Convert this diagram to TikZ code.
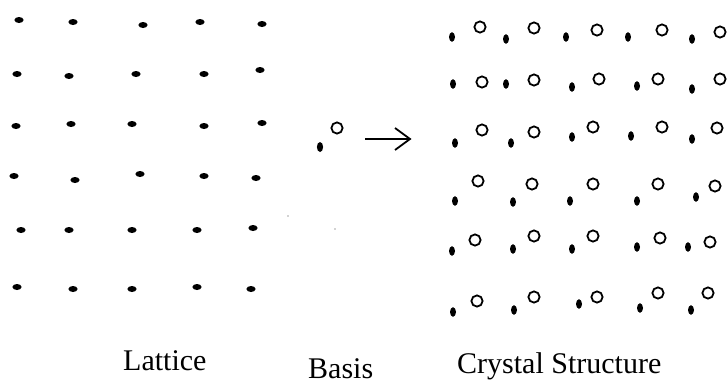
\documentclass[tikz,border=0pt]{standalone}
\usepackage{fontspec}
\setmainfont{Liberation Serif}
\tikzset{
  latdot/.style={fill=black},
  atomA/.style={fill=black},
  atomB/.style={draw=black, line width=1.8pt, fill=none},
  lbl/.style={anchor=base west, inner sep=0pt, font=\fontsize{30}{36}\selectfont},
}
\begin{document}
\begin{tikzpicture}[x=1pt,y=-1pt]
\useasboundingbox (0,0) rectangle (728,383);
% lattice
\foreach \x/\y in {19/20,73/22,143/25,200/22,262/24,
                   17/74,69/76,136/74,204/74,260/70,
                   16/126,71/124,132/124,204/126,262/123,
                   14/176,75/180,140/174,204/176,256/178,
                   21/230,69/230,132/230,197/230,253/228,
                   17/287,73/289,132/289,197/287,251/289}
  \fill[latdot] (\x,\y) ellipse [x radius=4.6, y radius=3];
% basis
\coordinate (bA) at (320,147);
\coordinate (bB) at (337,128);
\fill[atomA] (bA) ellipse [x radius=3.1, y radius=5];
\draw[atomB] (bB) circle [radius=5.6];
\fill[gray!70] (288,216) circle [radius=0.9];
\fill[gray!70] (335,229) circle [radius=0.9];
% arrow
\coordinate (aS) at (365,139);
\coordinate (aE) at (410,139);
\draw[line width=1.8pt] (aS) -- (aE);
\draw[line width=1.8pt, line join=miter] ([shift={(-15,-11)}]aE) -- (aE) -- ([shift={(-15,11)}]aE);
% crystal structure: filled atoms
\foreach \x/\y in {452/37,506/39,566/37,628/37,692/39,
                   453/84,506/84,572/87,637/86,692/89,
                   455/143,511/143,572/137,631/136,692/139,
                   455/201,513/202,570/201,637/201,696/197,
                   452/251,513/249,572/249,637/247,688/247,
                   453/312,514/310,579/304,640/308,691/310}
  \fill[atomA] (\x,\y) ellipse [x radius=3, y radius=4.8];
% crystal structure: open atoms
\foreach \x/\y in {480/27,534/28,597/30,662/30,720/32,
                   482/82,534/80,599/79,658/79,720/79,
                   482/130,534/132,593/127,662/127,717/128,
                   478/181,532/184,593/184,658/184,715/186,
                   475/240,534/236,593/236,660/238,710/242,
                   477/301,534/297,597/297,658/293,708/293}
  \draw[atomB] (\x,\y) circle [radius=5.6];
% labels
\node[lbl] (lat) at (123,370) {Lattice};
\node[lbl] (bas) at (308,378) {Basis};
\node[lbl] (cry) at (457,373) {Crystal Structure};
\end{tikzpicture}
\end{document}
